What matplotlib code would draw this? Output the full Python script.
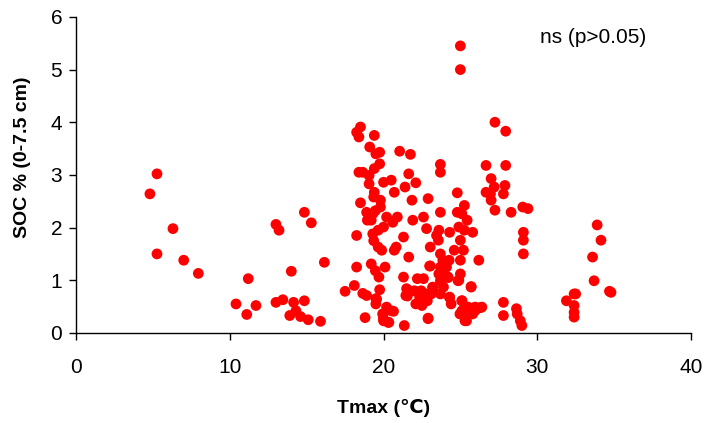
import matplotlib
matplotlib.use("Agg")
import matplotlib.pyplot as plt

plt.rcParams['font.family'] = ['Liberation Sans', 'DejaVu Sans']

tmax = [4.8, 5.26, 5.26, 6.3, 7.0, 7.95, 10.4, 11.1, 11.2, 11.7, 13.0, 13.0, 13.2, 13.45, 13.9,
        14.0, 14.15, 14.3, 14.6, 14.85, 14.85, 15.1, 15.3, 15.9, 16.15,
        17.5, 18.1, 18.25, 18.25, 18.25, 18.4, 18.5, 18.4, 18.5, 18.65, 18.65, 18.8, 18.9, 18.9,
        18.95, 19.06, 19.1, 19.06, 19.2, 19.3, 19.2, 19.3, 19.36, 19.4, 19.4, 19.36, 19.4, 19.5,
        19.47, 19.47, 19.5, 19.5, 19.65, 19.65, 19.7, 19.75, 19.75, 19.8, 19.8, 19.75, 19.88,
        19.94, 20.0, 20.0, 20.0, 20.1, 20.2, 20.2, 20.35, 20.5, 20.6, 20.65, 20.7, 20.7, 20.82,
        20.9, 21.05, 21.3, 21.3, 21.35, 21.4, 21.45, 21.5, 21.64, 21.64, 21.75, 21.85, 21.9,
        22.0, 22.1, 22.1, 22.2, 22.35, 22.45, 22.5, 22.6, 22.6, 22.75, 22.8, 22.85, 22.9, 22.9,
        23.04, 23.04, 23.1, 23.2, 23.45, 23.57, 23.6, 23.6, 23.7, 23.7, 23.7, 23.7, 23.7, 23.7,
        23.7, 23.86, 23.9, 23.98, 24.1, 24.2, 24.27, 24.3, 24.3, 24.4, 24.6, 24.8, 24.8, 24.85,
        24.9, 24.97, 25.0, 25.0, 25.0, 25.0, 25.0, 25.1, 25.1, 25.2, 25.26, 25.26, 25.3, 25.4,
        25.44, 25.5, 25.7, 25.8, 25.8, 25.96, 26.2, 26.4, 26.67, 26.67, 26.96, 27.0, 27.0, 27.2,
        27.25, 27.25, 27.8, 27.8, 27.8, 27.9, 27.95, 27.95, 28.3, 28.65, 28.7, 28.9, 29.0, 29.06,
        29.1, 29.1, 29.1, 29.4, 31.9, 32.4, 32.4, 32.4, 32.4, 32.5, 33.6, 33.7, 33.9, 34.15,
        34.7, 34.8,
        23.0, 24.3, 25.1, 25.3, 25.6, 26.3, 25.7, 19.55, 19.99, 20.3, 20.5, 21.55, 22.7, 22.9,
        23.2, 23.9, 24.2, 24.9, 25.1, 25.95]
soc = [2.64, 3.02, 1.50, 1.98, 1.38, 1.13, 0.55, 0.35, 1.03, 0.52, 0.58, 2.06, 1.95, 0.63, 0.33,
       1.17, 0.58, 0.42, 0.31, 2.29, 0.61, 0.25, 2.09, 0.22, 1.34,
       0.79, 0.90, 1.85, 1.25, 3.81, 3.72, 3.91, 3.05, 2.47, 3.05, 0.75, 0.29, 0.71, 2.29,
       2.14, 2.99, 3.53, 2.83, 2.14, 2.26, 1.31, 1.88, 1.75, 3.75, 2.67, 2.58, 3.12, 3.40,
       2.32, 1.18, 0.65, 0.55, 1.95, 1.63, 1.06, 3.21, 3.43, 2.52, 2.39, 0.82, 1.57,
       0.36, 0.23, 2.86, 2.01, 1.25, 0.49, 2.20, 0.20, 2.90, 2.10, 0.41, 2.67, 1.57, 1.63,
       2.20, 3.45, 1.82, 1.06, 0.14, 2.77, 0.71, 0.84, 3.02, 1.44, 3.39, 2.52, 2.14,
       0.80, 2.85, 0.55, 1.03, 0.68, 0.80, 0.52, 2.20, 1.03, 0.74, 1.98, 0.61, 0.27, 2.55,
       1.63, 1.27, 0.74, 0.87, 1.85, 1.76, 1.95, 1.12, 3.20, 3.05, 2.29, 1.50, 1.25, 0.99,
       0.74, 1.38, 0.87, 1.12, 1.25, 1.06, 1.38, 1.91, 0.68, 0.55, 1.57, 2.66, 2.29, 0.99,
       2.01, 0.36, 5.45, 5.00, 1.76, 1.38, 1.12, 2.26, 0.61, 1.57, 2.42, 1.95, 0.33, 0.23,
       2.14, 0.49, 0.87, 0.36, 1.91, 0.49, 1.38, 0.49, 3.18, 2.67, 2.64, 2.93, 2.52, 2.77,
       4.00, 2.33, 0.58, 0.33, 2.64, 2.80, 3.83, 3.18, 2.29, 0.46, 0.36, 0.23, 0.14, 2.39,
       1.91, 1.76, 1.50, 2.36, 0.61, 0.74, 0.52, 0.39, 0.30, 0.74, 1.44, 0.99, 2.05, 1.76,
       0.79, 0.77,
       1.27, 0.67, 0.42, 0.23, 0.42, 0.48, 0.88, 0.64, 0.28, 0.20, 0.42, 0.70, 0.73, 0.28,
       0.86, 1.21, 1.05, 1.00, 0.61, 0.42]

x_ticks = [0, 10, 20, 30, 40]
y_ticks = [0, 1, 2, 3, 4, 5, 6]

fig = plt.figure(figsize=(7.05, 4.23), dpi=100)
ax = fig.add_axes([0.108, 0.213, 0.872, 0.747])
ax.scatter(tmax, soc, s=60, color='#FF0000', edgecolors='none', zorder=3, clip_on=False)

ax.set_xlim(0, 40)
ax.set_ylim(0, 6)
ax.set_xticks(x_ticks)
ax.set_yticks(y_ticks)
for s in ['top', 'right']:
    ax.spines[s].set_visible(False)
for s in ['left', 'bottom']:
    ax.spines[s].set_color('black')
    ax.spines[s].set_linewidth(1.0)
ax.tick_params(axis='both', direction='out', length=5, width=1, labelsize=15, colors='black')
ax.tick_params(axis='x', pad=13)
ax.tick_params(axis='y', pad=5)

ax.set_xlabel('Tmax (℃)', fontsize=14, fontweight='bold', labelpad=16)
ax.set_ylabel('SOC % (0-7.5 cm)', fontsize=14, fontweight='bold')
ax.yaxis.set_label_coords(-0.073, 0.557)
ax.text(30.2, 5.6, 'ns (p>0.05)', fontsize=15, ha='left', va='center')

fig.savefig('out.png', dpi=100)
